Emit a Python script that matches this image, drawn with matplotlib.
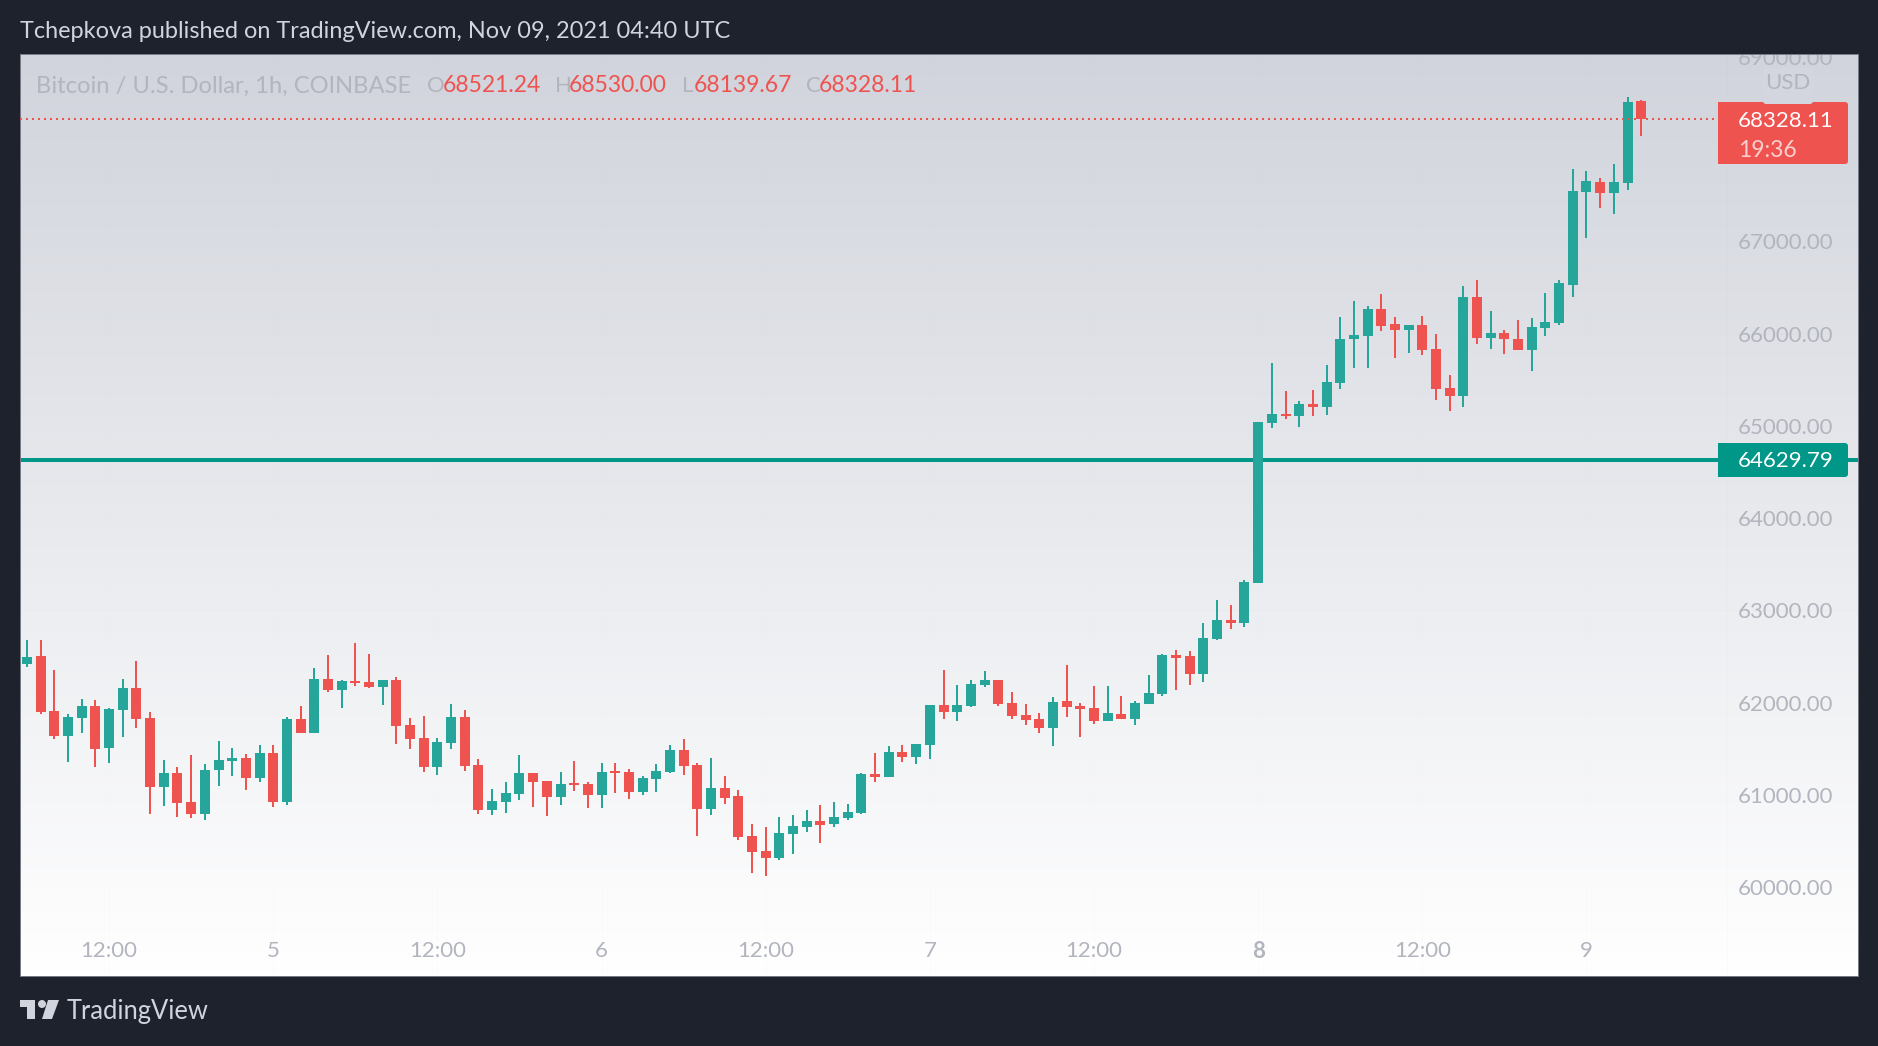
import numpy as np
import matplotlib
matplotlib.use('Agg')
import matplotlib.pyplot as plt
from matplotlib.patches import FancyBboxPatch, Rectangle, Polygon, Circle
from matplotlib.transforms import IdentityTransform

plt.rcParams['font.family'] = ['Lato', 'DejaVu Sans']

W, H = 1878, 1046

BG = '#1e222d'
UP = '#26a69a'
DOWN = '#ef5350'
LEVEL = '#009688'
GREY = '#b2b5be'

### --------- DATA --------- ###

opens = [62420, 62506, 61910, 61639, 61834, 61964, 61509, 61921, 62159, 61834,
         61087, 61239, 60924, 60794, 61271, 61369, 61401, 61184, 61455, 60924,
         61824, 61672, 62257, 62138, 62235, 62225, 62170, 62246, 61759, 61618,
         61304, 61564, 61845, 61325, 60838, 60924, 61011, 61239, 61152, 60979,
         61130, 61119, 61000, 61260, 61249, 61033, 61174, 61249, 61488, 61325,
         60848, 61076, 60989, 60556, 60393, 60318, 60578, 60653, 60718, 60686,
         60751, 60805, 61228, 61195, 61466, 61412, 61542, 61975, 61899, 61965,
         62192, 62246, 61997, 61867, 61824, 61726, 62019, 61965, 61943, 61802,
         61878, 61824, 61986, 62094, 62517, 62506, 62311, 62690, 62896, 62864,
         63297, 65031, 65128, 65107, 65237, 65204, 65464, 65941, 65973, 66266,
         66103, 66038, 66092, 65833, 65410, 65323, 66396, 65951, 66006, 65941,
         65821, 66060, 66114, 66526, 67533, 67642, 67523, 67631, 68521.24]
highs = [62680, 62680, 62355, 61878, 62040, 62029, 61943, 62257, 62452, 61899,
         61379, 61304, 61434, 61336, 61585, 61509, 61444, 61542, 61542, 61845,
         61964, 62376, 62517, 62246, 62647, 62528, 62246, 62279, 61834, 61856,
         61618, 61986, 61921, 61390, 61065, 61141, 61434, 61239, 61152, 61249,
         61369, 61141, 61347, 61347, 61282, 61206, 61336, 61542, 61607, 61347,
         61401, 61206, 61054, 60686, 60653, 60762, 60783, 60838, 60892, 60924,
         60903, 61238, 61455, 61531, 61542, 61553, 61975, 62354, 62192, 62246,
         62344, 62246, 62116, 61986, 61889, 62062, 62409, 61997, 62181, 62181,
         62073, 62019, 62300, 62528, 62571, 62560, 62864, 63113, 63059, 63330,
         65041, 65681, 65377, 65269, 65388, 65659, 66179, 66353, 66298, 66428,
         66179, 66092, 66190, 65995, 65551, 66515, 66580, 66244, 66038, 66147,
         66168, 66439, 66580, 67783, 67761, 67685, 67837, 68563, 68530.00]
lows = [62387, 61878, 61607, 61358, 61672, 61304, 61347, 61629, 61726, 60794,
        60881, 60762, 60751, 60729, 61098, 61206, 61054, 61141, 60870, 60892,
        61672, 61672, 62116, 61943, 62181, 62160, 61975, 61553, 61499, 61249,
        61217, 61499, 61260, 60794, 60783, 60805, 60946, 60870, 60773, 60892,
        61044, 60859, 60859, 61022, 60957, 61000, 61033, 61239, 61217, 60556,
        60783, 60903, 60513, 60155, 60123, 60296, 60361, 60599, 60480, 60653,
        60729, 60794, 61141, 61195, 61358, 61336, 61390, 61824, 61802, 61954,
        62170, 61965, 61824, 61759, 61672, 61531, 61845, 61629, 61770, 61802,
        61824, 61759, 61986, 62073, 62138, 62192, 62224, 62680, 62799, 62820,
        63297, 64977, 65074, 64987, 65107, 65117, 65399, 65627, 65627, 66028,
        65735, 65789, 65768, 65280, 65161, 65204, 65886, 65832, 65778, 65821,
        65594, 65973, 66092, 66396, 67035, 67360, 67295, 67555, 68139.67]
closes = [62495, 61899, 61639, 61845, 61964, 61499, 61932, 62159, 61824, 61087,
          61239, 60913, 60794, 61271, 61379, 61401, 61184, 61455, 60924, 61824,
          61672, 62257, 62138, 62235, 62214, 62170, 62246, 61748, 61607, 61304,
          61574, 61845, 61314, 60838, 60935, 61022, 61239, 61141, 60979, 61119,
          61109, 61000, 61249, 61239, 61033, 61184, 61260, 61488, 61314, 60848,
          61076, 60968, 60545, 60383, 60318, 60588, 60664, 60718, 60675, 60762,
          60816, 61228, 61195, 61466, 61412, 61553, 61975, 61899, 61975, 62203,
          62246, 61986, 61856, 61813, 61726, 62008, 61954, 61932, 61802, 61889,
          61824, 61997, 62105, 62517, 62485, 62311, 62701, 62896, 62864, 63308,
          65041, 65128, 65107, 65237, 65204, 65475, 65941, 65984, 66266, 66082,
          66038, 66092, 65822, 65399, 65323, 66396, 65951, 66006, 65941, 65821,
          66071, 66125, 66548, 67544, 67653, 67523, 67642, 68509, 68328.11]

# 68000.00 sits under the last price label in the reference, so it is left out
price_ticks = [60000, 61000, 62000, 63000, 64000, 65000, 66000, 67000, 69000]
time_tick_pos = [6, 18, 30, 42, 54, 66, 78, 90, 102, 114]
time_tick_labels = ['12:00', '5', '12:00', '6', '12:00', '7', '12:00', '8', '12:00', '9']

last_price = 68328.11
level_price = 64629.79
countdown = '19:36'

### --------- HELPERS --------- ###


def px(x, y):
    # reference pixels (origin top left) to display coords
    return x, H - y


def fig_text(x, y, s, **kwargs):
    fig.text(x / W, 1 - y / H, s, va='center', **kwargs)


def price_label(y0, y1, color):
    # square on the left, rounded on the right
    x0, x1 = 1718, 1848
    fig.add_artist(FancyBboxPatch(px(x0 + 20, y1), x1 - x0 - 20, y1 - y0,
                                  boxstyle='round,pad=0,rounding_size=3',
                                  fc=color, ec='none', zorder=1,
                                  transform=IdentityTransform()))
    fig.add_artist(Rectangle(px(x0, y1), 40, y1 - y0, fc=color, ec='none', zorder=1,
                             transform=IdentityTransform()))


### --------- CHART --------- ###

fig = plt.figure(figsize=(W / 100, H / 100), dpi=100, facecolor=BG)
ax = fig.add_axes([20 / W, 1 - 976 / H, (1858 - 20) / W, (976 - 54) / H])

gradient = np.linspace(0, 1, 256).reshape(-1, 1)
top_col = np.array([209, 212, 220]) / 255
rgb = top_col + (1 - top_col) * gradient[:, :, None] * np.ones((256, 1, 3))
ax.imshow(rgb, extent=(0, 1, 0, 1), transform=ax.transAxes, aspect='auto', zorder=0)

ax.set_xlim(-0.512, 133.85)
ax.set_ylim(59039, 69029)

ax.grid(True, color='#787b86', alpha=0.015, lw=0.72, zorder=1)
ax.set_axisbelow(True)

x = np.arange(len(opens))
o, h, l, c = map(np.array, (opens, highs, lows, closes))
colors = np.where(c >= o, UP, DOWN)
ax.axhline(level_price, color=LEVEL, lw=2.88, zorder=2)
ax.vlines(x, l, h, colors=colors, lw=1.44, zorder=3)
ax.bar(x, np.abs(c - o), bottom=np.minimum(o, c), width=0.731, color=colors,
       linewidth=0, zorder=3)
ax.plot([-0.512, 124.2], [last_price, last_price], color=DOWN, lw=1.44,
        dashes=(1, 2), zorder=4)
ax.axvline(124.3, color='#787b86', alpha=0.015, lw=0.72, zorder=1)

ax.yaxis.tick_right()
ax.set_yticks(price_ticks)
ax.set_yticklabels(['%.2f' % p for p in price_ticks])
ax.tick_params(axis='y', length=0, pad=-86.4, labelsize=16, labelcolor=GREY)
ax.set_xticks(time_tick_pos)
ax.set_xticklabels(time_tick_labels)
ax.tick_params(axis='x', length=0, pad=-25.4, labelsize=16, labelcolor=GREY)
for lab in ax.get_yticklabels():
    lab.set_clip_on(True)
    lab.set_clip_box(ax.bbox)
ax.get_xticklabels()[7].set_fontweight('bold')

for spine in ax.spines.values():
    spine.set_color('#787b86')
    spine.set_linewidth(0.72)

# price scale labels
price_label(102, 164, DOWN)
price_label(443, 477, LEVEL)
fig.add_artist(FancyBboxPatch(px(1763, 104), 50, 36,
                              boxstyle='round,pad=0,rounding_size=3',
                              fc='#d3d6de', ec='none', zorder=2,
                              transform=IdentityTransform()))
fig_text(1788, 83, 'USD', color=GREY, fontsize=16, ha='center', zorder=5)
fig_text(1738, 121, '%.2f' % last_price, color='white', fontsize=16, zorder=5)
fig_text(1738, 150, countdown, color='#fbcfce', fontsize=16.5, zorder=5)
fig_text(1738, 461, '%.2f' % level_price, color='white', fontsize=16, zorder=5)

# header and symbol legend
fig_text(20, 32, 'Tchepkova published on TradingView.com, Nov 09, 2021 04:40 UTC',
         color='#d1d4dc', fontsize=16.9)
fig_text(36, 86, 'Bitcoin / U.S. Dollar, 1h, COINBASE', color=GREY, fontsize=17.1)
for lx, vx, letter, val in [(427, 443, 'O', opens[-1]), (555, 569, 'H', highs[-1]),
                            (682, 694, 'L', lows[-1]), (806, 819, 'C', closes[-1])]:
    fig_text(lx, 86, letter, color=GREY, fontsize=16)
    fig_text(vx, 86, '%.2f' % val, color=DOWN, fontsize=16.5)

# footer logo
logo = '#d1d4dc'
for pts in ([(20, 1000), (35, 1000), (35, 1019), (27, 1019), (27, 1007), (20, 1007)],
            [(48, 1000), (59, 1000), (52, 1019), (42, 1019)]):
    fig.add_artist(Polygon([px(*p) for p in pts], fc=logo, ec='none',
                           transform=IdentityTransform()))
fig.add_artist(Circle(px(42, 1004), 4, fc=logo, ec='none', transform=IdentityTransform()))
fig_text(67, 1011, 'TradingView', color=logo, fontsize=18.4)

fig.savefig('out.png', dpi=100, facecolor=BG)
